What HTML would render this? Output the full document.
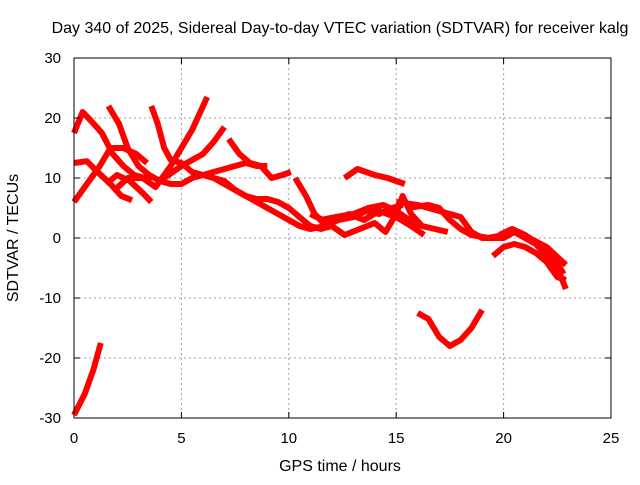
<!DOCTYPE html>
<html><head><meta charset="utf-8"><style>
body{margin:0;background:#fff}
svg text{font-family:"Liberation Sans",sans-serif;font-size:15px;fill:#000}
svg text.big{font-size:16px}
</style></head><body>
<svg id="chart" width="640" height="480" xmlns="http://www.w3.org/2000/svg">
<rect width="640" height="480" fill="#fff"/>
<text class="big" x="340" y="33" text-anchor="middle">Day 340 of 2025, Sidereal Day-to-day VTEC variation (SDTVAR) for receiver kalg</text>
<text class="big" x="340" y="471" text-anchor="middle">GPS time / hours</text>
<text class="big" transform="translate(18,238) rotate(-90)" text-anchor="middle">SDTVAR / TECUs</text>
<g id="grid"></g>
<g id="series"></g>
<rect x="74" y="58" width="537" height="360" fill="none" stroke="#000" stroke-width="1"/>
<g id="ticks"></g>
</svg>
<script>
const xTicks=[0,5,10,15,20,25];
const yTicks=[-30,-20,-10,0,10,20,30];
const s1=[[0,-29.5],[0.5,-26],[0.9,-22],[1.25,-17.5]];
const s2=[[0,17.5],[0.4,21],[0.8,19.5],[1.3,17.5],[1.8,14],[2.3,12],[2.8,10.5],[3.3,10],[3.6,9.5]];
const s3=[[0,6],[0.6,9],[1.2,12],[1.7,15],[2.3,15],[2.9,14],[3.4,12.5]];
const s4=[[0,12.5],[0.6,12.8],[1.1,11],[1.7,9],[2.2,7],[2.7,6.3]];
const s5=[[1.6,22],[2.1,19],[2.5,15],[3.0,12],[3.5,10.5],[4.0,9.5],[4.5,9],[5,9],[5.5,10],[6,10.5],[6.5,11],[7,11.5],[7.5,12],[8,12.5],[8.5,12],[9,12]];
const s6=[[3.6,22],[3.9,19],[4.2,15],[4.5,13],[5,12.5],[5.5,11],[6,10.5],[6.5,10],[7,9.5],[7.5,8],[8,7],[8.5,6.5],[9,6.5],[9.5,6],[10,5],[10.5,3.5],[11,2],[11.5,1.5],[12,2]];
const s7=[[1.9,8],[2.5,10],[3.2,10],[3.8,8.5],[4.5,12],[5,15],[5.5,18],[6.2,23.5]];
const s8=[[1.5,9],[2.0,10.5],[2.6,9.5],[3.2,7.5],[3.6,6]];
const s9=[[4.0,9.5],[5,12],[6,14],[6.5,16],[7,18.5]];
const s10=[[7.2,16.5],[7.7,14],[8.2,12.5],[8.7,12],[9.2,10],[9.7,10.5],[10.1,11]];
const s11=[[6.5,10],[7.5,8],[8.5,6],[9.5,4],[10.5,2],[11,1.5],[11.7,2],[12.3,3],[13,3.5],[13.6,4.5],[14.2,4],[14.8,5],[15.3,5.5]];
const s12=[[12.6,10],[13.2,11.5],[14,10.5],[14.6,10],[15.0,9.5],[15.4,9]];
const s13=[[10.3,10],[10.8,7],[11.2,4],[11.6,2.5],[12.2,3],[12.8,4],[13.5,3],[14.2,4.5],[15,3.5],[15.7,2],[16.3,0.5]];
const s14=[[11,4],[11.6,3],[12,2],[12.6,0.5],[13.3,1.5],[14,2.5],[14.5,1],[15,4],[15.3,7],[15.7,4],[16.2,2]];
const s15=[[15,6],[16,5.5],[17,4.5],[18,3.5],[18.5,1],[19,0],[20,0],[20.5,1],[21,0],[21.5,-1],[22,-3],[22.5,-5],[22.9,-8.5]];
const s16=[[15.5,5],[16.5,5.5],[17,5],[17.5,3],[18,1.5],[18.5,0.5],[19.3,0],[20,0.5],[20.6,1],[21.2,0],[22,-1.5],[22.9,-4.5]];
const s17=[[19.5,-3],[20,-1.5],[20.5,-1],[21,-1.5],[21.5,-2.5],[22,-4],[22.5,-6.5],[22.9,-7]];
const s18=[[16,-12.5],[16.5,-13.5],[17,-16.5],[17.5,-18],[18,-17],[18.5,-15],[19,-12]];
const s19=[[11.5,3],[12.2,3.5],[13,4],[13.7,5],[14.4,5.5],[15,4.5],[15.6,3],[16.2,2],[16.8,1.5],[17.4,1]];
const s20=[[19.8,0.5],[20.4,1.5],[21,0.5],[21.6,-1],[22.2,-2.5],[22.8,-6]];
const allSeries=[s1,s2,s3,s4,s5,s6,s7,s8,s9,s10,s11,s12,s13,s14,s15,s16,s17,s18,s19,s20];
const X0=74,X1=611,Y0=418,Y1=58;
function xs(h){return X0+(h-0)/(25-0)*(X1-X0);}
function ys(v){return Y0-(v+30)/60*(Y0-Y1);}
const NS="http://www.w3.org/2000/svg";
const grid=document.getElementById('grid'),ticks=document.getElementById('ticks'),ser=document.getElementById('series');
xTicks.forEach(t=>{
  const x=xs(t);
  if(t>0&&t<25){const l=document.createElementNS(NS,'line');
  
  
  l.setAttribute('x1',x);l.setAttribute('x2',x);l.setAttribute('y1',Y1);l.setAttribute('y2',Y0);
  l.setAttribute('stroke','#a0a0a0');l.setAttribute('stroke-dasharray','2,3');grid.appendChild(l);}
  const tk=document.createElementNS(NS,'path');
  
  
  tk.setAttribute('d',`M${x},${Y0}v-6M${x},${Y1}v6`);tk.setAttribute('stroke','#000');ticks.appendChild(tk);
  const tx=document.createElementNS(NS,'text');
  
  
  tx.setAttribute('x',x);tx.setAttribute('y',443);tx.setAttribute('text-anchor','middle');tx.textContent=t;ticks.appendChild(tx);
});
yTicks.forEach(t=>{
  const y=ys(t);
  if(t>-30&&t<30){const l=document.createElementNS(NS,'line');
  
  
  l.setAttribute('x1',X0);l.setAttribute('x2',X1);l.setAttribute('y1',y);l.setAttribute('y2',y);
  l.setAttribute('stroke','#a0a0a0');l.setAttribute('stroke-dasharray','2,3');grid.appendChild(l);}
  const tk=document.createElementNS(NS,'path');
  
  
  tk.setAttribute('d',`M${X0},${y}h6M${X1},${y}h-6`);tk.setAttribute('stroke','#000');ticks.appendChild(tk);
  const tx=document.createElementNS(NS,'text');
  
  
  tx.setAttribute('x',61);tx.setAttribute('y',y+5);tx.setAttribute('text-anchor','end');tx.textContent=t;ticks.appendChild(tx);
});
allSeries.forEach((s,i)=>{
  const p=document.createElementNS(NS,'polyline');
  
  
  p.setAttribute('points',s.map(d=>xs(d[0]).toFixed(1)+','+ys(d[1]).toFixed(1)).join(' '));
  p.setAttribute('fill','none');p.setAttribute('stroke','#ff0000');p.setAttribute('stroke-width','6');
  p.setAttribute('stroke-linejoin','round');
  ser.appendChild(p);
});
</script>
</body></html>
